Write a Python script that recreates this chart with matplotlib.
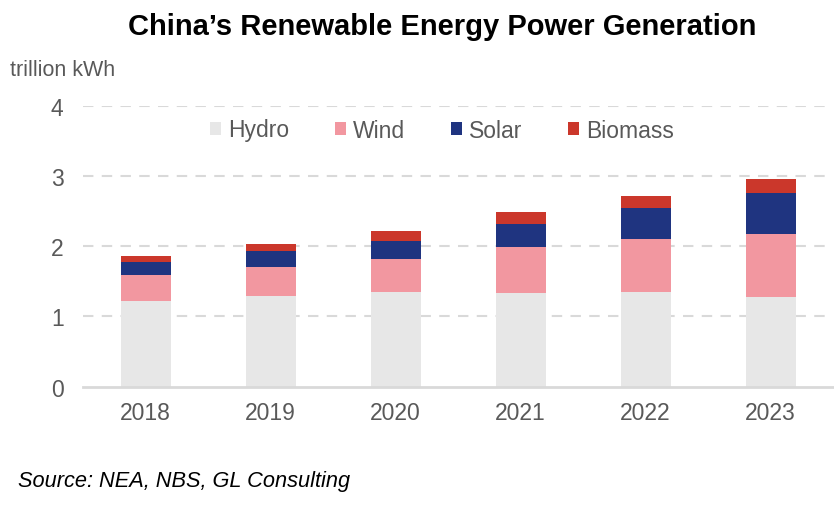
import matplotlib
matplotlib.use("Agg")
import matplotlib.pyplot as plt
import numpy as np

years = ["2018", "2019", "2020", "2021", "2022", "2023"]
hydro = [1.22, 1.29, 1.35, 1.33, 1.35, 1.28]
wind = [0.37, 0.41, 0.47, 0.66, 0.75, 0.89]
solar = [0.18, 0.23, 0.25, 0.32, 0.44, 0.58]
biomass = [0.09, 0.10, 0.145, 0.175, 0.17, 0.20]
series_names = ["Hydro", "Wind", "Solar", "Biomass"]
colors = ["#e7e7e7", "#f297a0", "#1f3480", "#cb372b"]
yticks = [0, 1, 2, 3, 4]

plt.rcParams['font.family'] = ['Liberation Sans', 'DejaVu Sans']

W, H = 834, 506
fig = plt.figure(figsize=(W/100, H/100), dpi=100)
ax = fig.add_axes([83/W, 1-387.7/H, 750/W, (387.7-106.5)/H])

x = np.arange(len(years))
bottom = np.zeros(len(years))
handles = []
for name, vals, c in zip(series_names, [hydro, wind, solar, biomass], colors):
    b = ax.bar(x, vals, width=0.4, bottom=bottom, color=c, label=name, zorder=3)
    bottom += np.array(vals)
    handles.append(b)

ax.set_ylim(0, 4)
ax.set_xlim(-0.5, len(years) - 0.5)
ax.set_yticks(yticks)
ax.set_xticks(x)
ax.set_xticklabels(years)
for s in ["top", "right", "left"]:
    ax.spines[s].set_visible(False)
ax.spines["bottom"].set_color("#d9d9d9")
ax.spines["bottom"].set_linewidth(2)
ax.spines["bottom"].set_zorder(4)
ax.tick_params(axis="both", length=0, labelsize=16.5, colors="#595959")
ax.tick_params(axis="y", pad=14)
ax.tick_params(axis="x", pad=10)
for yv in yticks[1:]:
    ax.axhline(yv, color="#d9d9d9", lw=1.5, ls=(0, (5, 4)), zorder=1)

fig.text(442/W, 1-35/H, "China\u2019s Renewable Energy Power Generation",
         ha="center", va="baseline", fontsize=21, fontweight="bold", color="black")
fig.text(10/W, 1-75.7/H, "trillion kWh", ha="left", va="baseline",
         fontsize=15.5, color="#595959")
fig.text(18/W, 1-486.7/H, "Source: NEA, NBS, GL Consulting", ha="left",
         va="baseline", fontsize=15.7, style="italic", color="black")

leg = fig.legend(handles=handles, labels=series_names, loc="center",
                 bbox_to_anchor=(442/W, 1-131/H), ncol=4, frameon=False,
                 fontsize=16.5, handlelength=0.48, handleheight=0.48,
                 handletextpad=0.3, columnspacing=2.0, labelcolor="#595959",
                 borderpad=0, borderaxespad=0)

fig.savefig("out.png", dpi=100)
